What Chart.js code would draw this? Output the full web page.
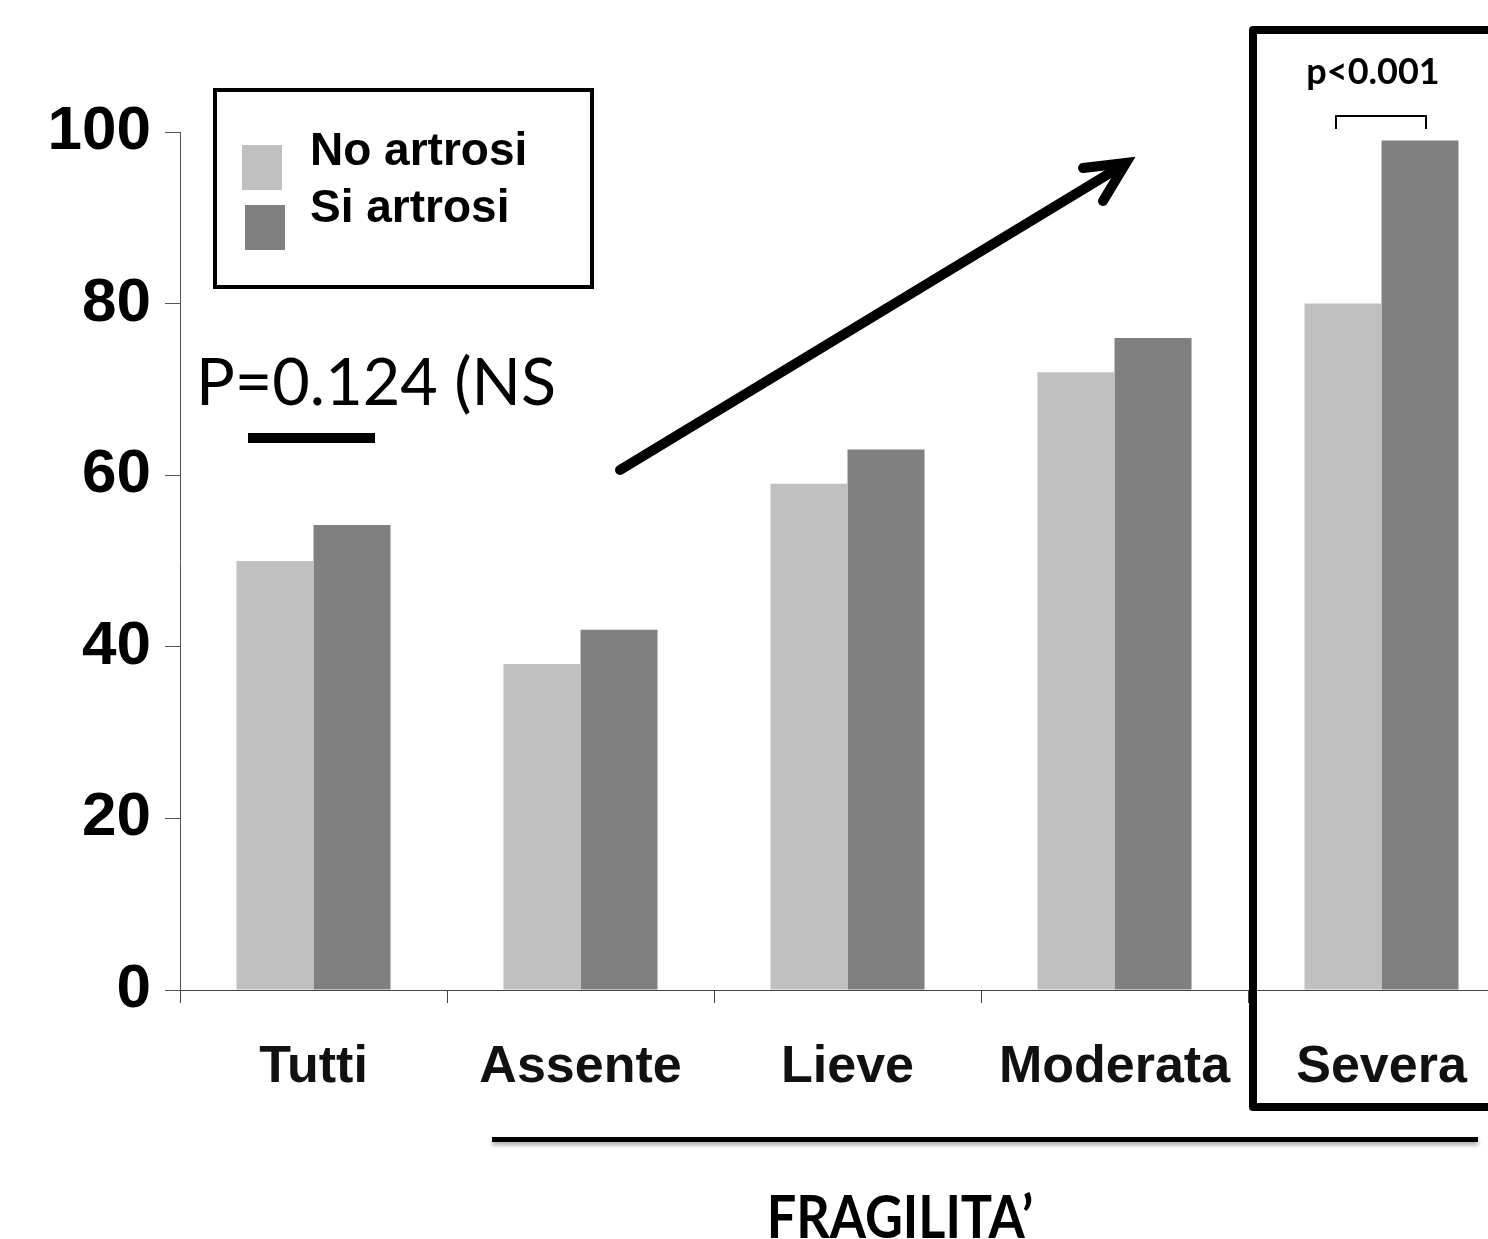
<!DOCTYPE html>
<html>
<head>
<meta charset="utf-8">
<script src="https://cdn.jsdelivr.net/npm/chart.js@4/dist/chart.umd.min.js"></script>
<style>
  html, body { margin: 0; padding: 0; background: #fff; overflow: hidden; }
  #wrap { width: 1540px; height: 1239px; }
</style>
</head>
<body>
<div id="wrap"><canvas id="fragilita" width="1540" height="1239"></canvas></div>
<script>
const categories = ['Tutti', 'Assente', 'Lieve', 'Moderata', 'Severa'];
const noArtrosi = [50, 38, 59, 72, 80];
const siArtrosi = [54.2, 42, 63, 76, 99];
const yTickValues = [0, 20, 40, 60, 80, 100];

const LIGHT = '#c0c0c0';
const DARK = '#808080';
const tickFont = "'Liberation Sans', Arial, sans-serif";
const calibriLike = "Lato, 'Open Sans', sans-serif";

// text squeezed a bit sideways, Calibri is narrower than Lato
function narrowText(ctx, text, x, y, sx) {
  ctx.save();
  ctx.translate(x, y);
  ctx.scale(sx, 1);
  ctx.fillText(text, 0, 0);
  ctx.restore();
}

// extra drawings: legend box, p-values, arrow, highlight box
const extras = {
  id: 'extras',
  afterDraw(chart) {
    const ctx = chart.ctx;
    ctx.save();

    // legend box
    ctx.strokeStyle = '#000';
    ctx.lineWidth = 4;
    ctx.strokeRect(215, 90, 377, 197);
    ctx.fillStyle = LIGHT;
    ctx.fillRect(242, 145, 40, 45);
    ctx.fillStyle = DARK;
    ctx.fillRect(245, 205, 40, 45);
    ctx.fillStyle = '#000';
    ctx.font = "bold 46px 'Liberation Sans', Arial, sans-serif";
    ctx.textBaseline = 'alphabetic';
    ctx.fillText('No artrosi', 310, 165);
    ctx.fillText('Si artrosi', 310, 222);

    // P=0.124 (NS
    ctx.font = '66px ' + calibriLike;
    narrowText(ctx, 'P=0.124 (NS', 196, 405, 0.98);
    ctx.fillRect(248, 433, 127, 10);

    // arrow
    ctx.lineWidth = 10;
    ctx.lineCap = 'round';
    ctx.lineJoin = 'miter';
    ctx.beginPath();
    ctx.moveTo(620, 470);
    ctx.lineTo(1115, 170);
    ctx.stroke();
    ctx.beginPath();
    ctx.moveTo(1083, 168);
    ctx.lineTo(1126, 163);
    ctx.lineTo(1103, 201);
    ctx.stroke();

    // highlight box around Severa
    ctx.lineWidth = 8;
    ctx.lineJoin = 'round';
    ctx.lineCap = 'butt';
    ctx.strokeRect(1253, 30, 400, 1077);

    // bracket over Severa bars
    const m0 = chart.getDatasetMeta(0).data[4];
    const m1 = chart.getDatasetMeta(1).data[4];
    ctx.lineWidth = 2;
    ctx.beginPath();
    ctx.moveTo(m0.x - 7, 129);
    ctx.lineTo(m0.x - 7, 116);
    ctx.lineTo(m1.x + 6, 116);
    ctx.lineTo(m1.x + 6, 129);
    ctx.stroke();
    ctx.font = 'bold 36px ' + calibriLike;
    ctx.textAlign = 'center';
    ctx.fillText('p<0.001', 1373, 84);

    // line under fragility categories
    ctx.shadowColor = 'rgba(0,0,0,0.35)';
    ctx.shadowOffsetY = 3;
    ctx.shadowBlur = 4;
    ctx.fillRect(492, 1137, 986, 5);
    ctx.shadowColor = 'transparent';

    ctx.font = 'bold 60px ' + calibriLike;
    narrowText(ctx, 'FRAGILITA\u2019', 900, 1238, 0.87);
    ctx.restore();
  }
};

const chart = new Chart(document.getElementById('fragilita').getContext('2d'), {
  type: 'bar',
  data: {
    labels: categories,
    datasets: [
      { label: 'No artrosi', data: noArtrosi, backgroundColor: LIGHT },
      { label: 'Si artrosi', data: siArtrosi, backgroundColor: DARK }
    ]
  },
  options: {
    responsive: false,
    animation: false,
    layout: { padding: { left: 0, top: 132, right: 25, bottom: 129 } },
    datasets: { bar: { categoryPercentage: 0.577, barPercentage: 1 } },
    plugins: { legend: { display: false }, tooltip: { enabled: false } },
    scales: {
      x: {
        grid: { offset: true, drawOnChartArea: false, tickLength: 13, tickColor: '#444', color: '#444' },
        border: { color: '#444', width: 1 },
        ticks: { color: '#111', padding: 33, font: { family: tickFont, weight: 'bold', size: 52 } },
        afterFit(scale) { scale.height = 120; }
      },
      y: {
        min: 0,
        max: 100,
        afterBuildTicks(scale) { scale.ticks = yTickValues.map(v => ({ value: v })); },
        grid: { drawOnChartArea: false, tickLength: 15, tickColor: '#555' },
        border: { color: '#555', width: 1 },
        ticks: { color: '#000', padding: 14, font: { family: tickFont, weight: 'bold', size: 62 } },
        afterFit(scale) { scale.width = 180; }
      }
    }
  },
  plugins: [extras]
});
</script>
</body>
</html>
